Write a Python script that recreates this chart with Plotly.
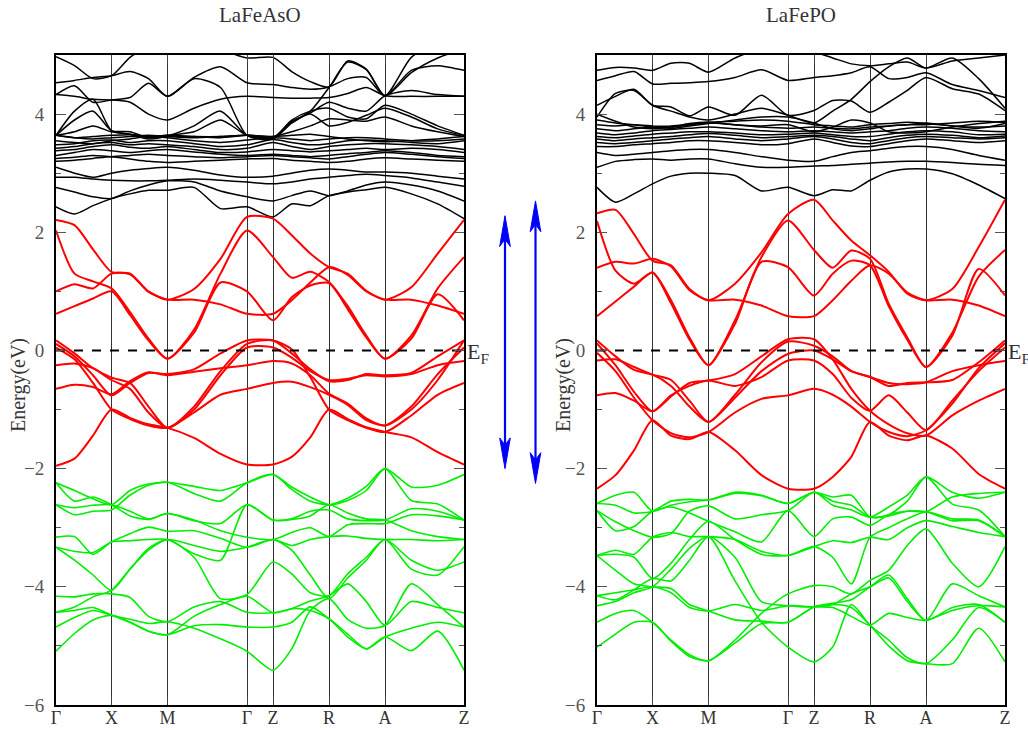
import plotly.graph_objects as go

# ---------------- data ----------------
k_sym = [0, 55.5, 111.5, 191, 217, 273, 329, 408]
k_labels = ["Γ", "X", "M", "Γ", "Z", "R", "A", "Z"]
k_samp = [0, 18.5, 37, 55.5, 74, 92.5, 111.5, 138, 164.5, 191, 217,
          235.7, 254.3, 273, 291.7, 310.3, 329, 355.3, 381.7, 408]
y_ticks = [-6, -4, -2, 0, 2, 4]
y_minor = [-5, -3, -1, 1, 3]
e_fermi = 0.0

# LaFeAsO
lafeaso_cond = [
    [2.43, 2.31, 2.45, 2.57, 2.65, 2.71, 2.71, 2.76, 2.40, 2.43, 2.26, 2.48, 2.45, 2.62, 2.68, 2.72, 2.76, 2.65, 2.48, 2.23],
    [2.76, 2.68, 2.60, 2.57, 2.70, 2.80, 2.87, 2.85, 2.70, 2.60, 2.53, 2.62, 2.70, 2.62, 2.70, 2.80, 2.85, 2.80, 2.70, 2.53],
    [2.93, 2.93, 2.90, 2.88, 2.87, 2.87, 2.88, 2.90, 2.88, 2.85, 2.82, 2.85, 2.90, 2.93, 2.96, 2.98, 2.96, 2.92, 2.85, 2.78],
    [3.10, 3.00, 2.93, 3.00, 3.05, 3.08, 3.10, 3.05, 2.97, 2.93, 2.95, 3.00, 3.05, 3.07, 3.05, 3.02, 3.02, 3.00, 2.95, 2.90],
    [3.20, 3.22, 3.25, 3.28, 3.24, 3.20, 3.18, 3.20, 3.22, 3.24, 3.25, 3.22, 3.20, 3.18, 3.20, 3.24, 3.26, 3.24, 3.22, 3.20],
    [3.25, 3.27, 3.30, 3.28, 3.30, 3.32, 3.30, 3.28, 3.26, 3.28, 3.30, 3.28, 3.26, 3.24, 3.28, 3.32, 3.35, 3.32, 3.28, 3.25],
    [3.30, 3.35, 3.40, 3.38, 3.35, 3.38, 3.40, 3.36, 3.32, 3.30, 3.32, 3.30, 3.28, 3.30, 3.33, 3.35, 3.38, 3.35, 3.30, 3.28],
    [3.38, 3.40, 3.45, 3.48, 3.44, 3.42, 3.45, 3.40, 3.35, 3.36, 3.40, 3.38, 3.36, 3.38, 3.40, 3.42, 3.40, 3.42, 3.40, 3.35],
    [3.42, 3.45, 3.50, 3.52, 3.48, 3.50, 3.48, 3.45, 3.40, 3.42, 3.52, 3.45, 3.40, 3.45, 3.48, 3.50, 3.50, 3.48, 3.45, 3.40],
    [3.48, 3.50, 3.55, 3.56, 3.52, 3.55, 3.55, 3.50, 3.45, 3.48, 3.57, 3.52, 3.48, 3.50, 3.55, 3.56, 3.55, 3.52, 3.50, 3.55],
    [3.55, 3.52, 3.50, 3.55, 3.58, 3.62, 3.60, 3.55, 3.52, 3.56, 3.60, 3.58, 3.55, 3.58, 3.60, 3.60, 3.58, 3.55, 3.55, 3.58],
    [3.64, 3.60, 3.58, 3.60, 3.62, 3.64, 3.62, 3.60, 3.62, 3.64, 3.62, 3.64, 3.66, 3.62, 3.58, 3.55, 3.53, 3.55, 3.58, 3.62],
    [3.64, 3.70, 3.80, 3.70, 3.66, 3.62, 3.64, 3.62, 3.60, 3.64, 3.62, 3.70, 3.80, 3.92, 3.90, 3.88, 3.95, 3.80, 3.70, 3.62],
    [3.64, 4.05, 4.25, 3.72, 3.66, 3.58, 3.63, 3.80, 4.05, 3.64, 3.60, 3.85, 4.00, 3.80, 3.86, 3.98, 4.10, 3.95, 3.75, 3.64],
    [3.64, 3.90, 4.05, 3.72, 3.70, 3.60, 3.63, 3.62, 3.62, 3.64, 3.60, 3.90, 4.05, 4.10, 3.95, 3.92, 4.15, 4.00, 3.80, 3.64],
    [4.33, 4.48, 4.20, 4.24, 4.28, 4.52, 4.30, 4.60, 4.45, 3.64, 3.58, 3.88, 4.02, 4.20, 4.10, 4.05, 4.31, 4.40, 4.33, 4.30],
    [4.53, 4.57, 4.62, 4.65, 4.72, 4.60, 4.30, 4.62, 4.80, 4.53, 4.50, 4.45, 4.42, 4.46, 4.60, 4.62, 4.31, 4.74, 4.82, 4.74],
    [4.33, 4.30, 4.25, 4.24, 4.20, 4.00, 3.90, 4.10, 4.25, 4.30, 4.28, 4.27, 4.27, 4.28, 4.35, 4.45, 4.31, 4.30, 4.30, 4.30],
    [3.64, 3.60, 3.62, 3.64, 3.65, 3.62, 3.64, 3.70, 3.90, 3.64, 3.58, 3.85, 4.05, 4.45, 4.88, 4.75, 4.31, 4.70, 4.95, 5.10],
    [4.97, 4.82, 4.60, 4.65, 4.96, 5.15, 5.30, 5.30, 5.10, 4.95, 4.96, 4.72, 4.55, 4.46, 4.90, 4.76, 4.31, 4.96, 5.20, 5.10],
]
lafeaso_fe_d = [
    [2.21, 2.12, 1.71, 1.33, 1.30, 1.00, 0.86, 1.04, 1.55, 2.26, 2.23, 1.95, 1.64, 1.41, 1.30, 1.01, 0.86, 1.07, 1.64, 2.21],
    [2.03, 1.30, 1.17, 1.05, 0.65, 0.20, -0.14, 0.35, 1.30, 2.03, 1.58, 1.23, 1.33, 1.16, 0.75, 0.25, -0.14, 0.25, 1.05, 1.58],
    [0.62, 0.75, 0.88, 1.00, 0.60, 0.17, -0.14, 0.30, 1.15, 1.00, 0.51, 0.90, 1.10, 1.14, 0.70, 0.22, -0.14, 0.20, 0.95, 0.51],
    [1.00, 1.12, 1.05, 1.30, 1.29, 0.99, 0.86, 0.86, 0.78, 0.62, 0.62, 0.85, 1.15, 1.41, 1.28, 1.00, 0.86, 0.86, 0.76, 0.62],
    [0.11, -0.10, -0.42, -0.76, -0.55, -0.38, -0.40, -0.32, -0.05, 0.17, 0.17, 0.02, -0.45, -1.00, -1.18, -1.31, -1.38, -1.10, -0.75, -0.55],
    [0.17, -0.05, -0.30, -0.46, -0.55, -0.95, -1.31, -0.95, -0.35, 0.11, 0.17, -0.05, -0.32, -0.52, -0.50, -0.40, -0.42, -0.38, -0.10, 0.17],
    [0.05, -0.15, -0.55, -1.00, -1.16, -1.27, -1.31, -1.05, -0.75, -0.65, -0.55, -0.53, -0.62, -0.75, -0.92, -1.18, -1.27, -1.00, -0.50, 0.17],
    [-0.25, -0.22, -0.30, -0.50, -0.65, -1.05, -1.31, -1.00, -0.42, 0.05, 0.05, -0.12, -0.35, -0.50, -0.48, -0.42, -0.44, -0.40, -0.25, -0.18],
    [-0.65, -0.58, -0.62, -0.74, -0.52, -0.37, -0.42, -0.36, -0.30, -0.25, -0.18, -0.22, -0.42, -0.73, -0.90, -1.15, -1.27, -0.95, -0.40, 0.05],
    [-1.95, -1.83, -1.44, -1.00, -1.14, -1.25, -1.31, -1.48, -1.75, -1.93, -1.93, -1.80, -1.47, -1.00, -1.16, -1.30, -1.38, -1.47, -1.72, -1.93],
]
lafeaso_p = [
    [-2.24, -2.37, -2.51, -2.61, -2.37, -2.26, -2.23, -2.30, -2.37, -2.24, -2.10, -2.31, -2.48, -2.61, -2.54, -2.37, -2.00, -2.31, -2.28, -2.10],
    [-2.24, -2.55, -2.48, -2.61, -2.80, -2.86, -2.76, -2.88, -2.93, -2.61, -2.87, -2.85, -2.72, -2.70, -2.85, -2.88, -2.87, -2.68, -2.72, -2.87],
    [-2.61, -2.78, -2.72, -2.70, -2.45, -2.28, -2.23, -2.42, -2.55, -2.24, -2.10, -2.35, -2.55, -2.61, -2.50, -2.30, -2.00, -2.54, -2.60, -2.87],
    [-2.61, -2.66, -2.62, -2.61, -2.72, -2.85, -2.76, -2.87, -3.05, -3.16, -3.20, -3.08, -3.00, -3.15, -2.95, -2.93, -2.93, -2.78, -2.80, -2.87],
    [-3.16, -3.15, -3.45, -3.24, -3.10, -2.99, -3.06, -3.05, -3.18, -3.33, -3.20, -3.30, -3.20, -3.15, -3.14, -3.18, -3.20, -3.20, -3.22, -3.20],
    [-3.33, -3.40, -3.42, -3.24, -3.22, -3.20, -3.20, -3.44, -3.55, -2.61, -2.87, -2.86, -2.80, -2.61, -2.75, -2.85, -2.87, -3.05, -3.15, -3.20],
    [-3.33, -3.55, -3.80, -4.06, -3.70, -3.35, -3.20, -3.50, -4.20, -4.13, -3.58, -3.78, -4.10, -4.15, -3.78, -3.50, -3.20, -3.70, -3.80, -3.32],
    [-4.16, -4.17, -4.12, -4.12, -4.18, -4.50, -4.59, -4.34, -4.25, -4.43, -4.44, -4.37, -4.24, -4.15, -3.95, -4.25, -4.65, -4.25, -4.35, -4.44],
    [-4.43, -4.34, -4.17, -4.06, -3.70, -3.38, -3.20, -3.30, -3.40, -3.33, -3.20, -3.38, -3.80, -4.20, -3.85, -3.55, -3.20, -3.55, -3.72, -3.58],
    [-4.43, -4.40, -4.35, -4.48, -4.60, -4.75, -4.81, -4.66, -4.64, -4.68, -4.68, -4.60, -4.34, -4.54, -4.80, -5.05, -4.85, -4.70, -4.60, -4.68],
    [-4.68, -4.52, -4.40, -4.48, -4.55, -4.62, -4.59, -4.70, -4.88, -5.09, -5.41, -5.05, -4.40, -4.20, -4.55, -4.70, -4.65, -3.95, -4.30, -4.68],
    [-5.09, -4.79, -4.56, -4.48, -4.60, -4.75, -4.81, -4.50, -4.30, -4.16, -4.44, -4.37, -4.40, -4.54, -4.85, -5.05, -4.85, -5.08, -4.75, -5.41],
]

# LaFePO
lafepo_cond = [
    [2.76, 2.51, 2.65, 2.82, 2.95, 3.00, 3.00, 2.96, 2.70, 2.76, 2.62, 2.72, 2.70, 2.88, 3.02, 3.07, 3.07, 2.99, 2.80, 2.57],
    [3.10, 3.20, 3.23, 3.24, 3.22, 3.24, 3.24, 3.16, 3.10, 3.10, 3.12, 3.13, 3.15, 3.17, 3.19, 3.20, 3.20, 3.18, 3.15, 3.13],
    [3.35, 3.30, 3.32, 3.35, 3.38, 3.40, 3.40, 3.35, 3.28, 3.22, 3.20, 3.28, 3.35, 3.38, 3.42, 3.45, 3.45, 3.40, 3.30, 3.22],
    [3.45, 3.45, 3.48, 3.50, 3.52, 3.55, 3.55, 3.52, 3.48, 3.50, 3.58, 3.52, 3.46, 3.45, 3.50, 3.55, 3.58, 3.55, 3.52, 3.55],
    [3.52, 3.50, 3.52, 3.55, 3.58, 3.60, 3.62, 3.58, 3.55, 3.58, 3.62, 3.58, 3.52, 3.50, 3.55, 3.60, 3.62, 3.60, 3.58, 3.60],
    [3.58, 3.55, 3.58, 3.60, 3.62, 3.65, 3.67, 3.64, 3.60, 3.62, 3.64, 3.62, 3.58, 3.55, 3.60, 3.64, 3.66, 3.64, 3.60, 3.63],
    [3.62, 3.60, 3.63, 3.66, 3.68, 3.70, 3.70, 3.68, 3.65, 3.66, 3.68, 3.65, 3.62, 3.62, 3.66, 3.70, 3.72, 3.70, 3.65, 3.66],
    [3.68, 3.65, 3.68, 3.72, 3.74, 3.76, 3.78, 3.75, 3.72, 3.70, 3.72, 3.70, 3.68, 3.70, 3.72, 3.76, 3.78, 3.76, 3.72, 3.70],
    [3.75, 3.72, 3.75, 3.78, 3.80, 3.82, 3.85, 3.82, 3.78, 3.76, 3.78, 3.76, 3.75, 3.78, 3.80, 3.82, 3.85, 3.80, 3.78, 3.80],
    [3.82, 3.80, 3.82, 3.80, 3.78, 3.82, 3.86, 3.88, 3.90, 3.88, 3.82, 3.80, 3.78, 3.82, 3.84, 3.86, 3.84, 3.80, 3.76, 3.84],
    [3.90, 3.85, 3.82, 3.78, 3.76, 3.80, 3.84, 3.90, 3.95, 3.95, 3.85, 3.75, 3.72, 3.75, 3.80, 3.82, 3.82, 3.85, 3.88, 3.86],
    [4.00, 3.88, 3.78, 3.75, 3.78, 3.84, 3.86, 3.82, 3.80, 3.82, 3.70, 3.78, 3.90, 3.85, 3.70, 3.68, 3.70, 3.78, 3.84, 3.88],
    [4.15, 4.30, 4.42, 4.15, 4.12, 3.97, 4.12, 3.98, 4.32, 3.98, 4.06, 4.23, 4.22, 4.03, 4.20, 4.40, 4.62, 4.43, 4.34, 4.06],
    [4.57, 4.65, 4.72, 4.51, 4.52, 4.53, 4.55, 4.62, 4.75, 4.57, 4.62, 4.65, 4.70, 4.80, 4.60, 4.62, 4.70, 4.50, 4.40, 4.28],
    [4.74, 4.79, 4.78, 4.74, 4.86, 4.86, 4.71, 4.95, 5.10, 5.10, 5.05, 4.95, 4.85, 4.82, 4.85, 4.88, 4.78, 4.90, 4.95, 5.00],
    [3.95, 4.35, 4.40, 4.15, 4.05, 3.95, 3.90, 4.00, 4.10, 3.98, 3.85, 4.05, 4.25, 4.55, 4.80, 4.95, 4.78, 4.95, 4.60, 4.10],
]
lafepo_fe_d = [
    [2.32, 2.38, 1.97, 1.52, 1.44, 1.04, 0.85, 1.13, 1.66, 2.31, 2.55, 2.20, 1.86, 1.61, 1.33, 0.96, 0.85, 1.04, 1.75, 2.55],
    [2.19, 1.35, 1.13, 1.32, 0.85, 0.22, -0.25, 0.51, 1.58, 2.20, 1.70, 1.40, 1.69, 1.55, 0.79, 0.22, -0.28, 0.30, 1.25, 1.70],
    [0.58, 0.83, 1.08, 1.32, 0.80, 0.18, -0.25, 0.45, 1.50, 1.41, 0.93, 1.30, 1.52, 1.44, 0.75, 0.18, -0.28, 0.25, 1.38, 0.93],
    [1.40, 1.50, 1.47, 1.55, 1.42, 1.02, 0.85, 0.86, 0.76, 0.58, 0.58, 0.85, 1.18, 1.44, 1.30, 0.98, 0.85, 0.86, 0.76, 0.58],
    [0.12, -0.25, -0.70, -1.03, -0.78, -0.55, -0.51, -0.40, -0.10, 0.19, 0.19, -0.15, -0.65, -1.02, -1.25, -1.40, -1.44, -1.10, -0.85, -0.65],
    [0.17, -0.10, -0.33, -0.41, -0.60, -0.95, -1.21, -0.75, -0.20, 0.15, 0.08, -0.10, -0.35, -0.45, -0.60, -0.55, -0.54, -0.50, -0.20, 0.17],
    [-0.04, -0.35, -0.80, -1.18, -1.40, -1.47, -1.38, -1.05, -0.82, -0.76, -0.65, -0.75, -0.95, -1.21, -1.38, -1.45, -1.35, -0.90, -0.30, 0.12],
    [-0.17, -0.15, -0.28, -0.41, -0.50, -0.85, -1.21, -0.80, -0.35, -0.06, 0.00, -0.15, -0.35, -0.45, -0.55, -0.57, -0.54, -0.35, -0.25, -0.18],
    [-0.76, -0.72, -0.85, -1.03, -0.76, -0.60, -0.51, -0.60, -0.45, -0.17, -0.17, -0.40, -0.80, -1.02, -0.76, -1.05, -1.35, -0.85, -0.35, 0.05],
    [-2.34, -2.11, -1.69, -1.18, -1.44, -1.50, -1.38, -1.69, -2.11, -2.34, -2.34, -2.14, -1.80, -1.21, -1.44, -1.52, -1.44, -1.66, -2.09, -2.34],
]
lafepo_p = [
    [-2.59, -2.45, -2.40, -2.72, -2.62, -2.56, -2.53, -2.40, -2.45, -2.59, -2.40, -2.48, -2.45, -2.82, -2.78, -2.55, -2.14, -2.40, -2.50, -2.40],
    [-2.71, -2.90, -3.05, -3.16, -3.10, -2.72, -2.63, -2.85, -2.78, -2.71, -2.40, -2.62, -2.70, -2.82, -2.65, -2.45, -2.14, -2.60, -2.70, -3.15],
    [-2.71, -3.05, -2.98, -2.72, -2.65, -2.75, -2.89, -3.07, -3.24, -2.71, -3.15, -2.85, -2.82, -2.96, -2.78, -2.72, -2.73, -2.88, -2.88, -3.15],
    [-3.47, -3.38, -3.45, -3.16, -3.08, -3.15, -3.15, -3.20, -3.40, -3.47, -3.32, -3.22, -3.25, -3.16, -3.20, -3.00, -2.88, -2.98, -3.08, -3.15],
    [-3.47, -3.72, -3.95, -4.00, -4.03, -4.30, -4.41, -4.56, -4.58, -4.60, -4.34, -4.28, -4.22, -4.00, -3.80, -4.20, -4.57, -3.95, -4.15, -4.34],
    [-4.15, -4.22, -4.05, -3.86, -3.90, -3.55, -3.15, -3.50, -4.25, -4.32, -4.34, -4.30, -4.35, -4.65, -5.00, -5.25, -5.30, -5.30, -4.70, -5.27],
    [-4.32, -4.25, -4.10, -4.00, -3.70, -3.35, -3.15, -3.90, -4.60, -5.02, -5.27, -5.02, -4.30, -4.65, -4.90, -5.20, -5.30, -4.90, -4.35, -4.60],
    [-4.60, -4.45, -4.40, -4.60, -4.90, -5.15, -5.25, -4.90, -4.45, -4.12, -3.98, -4.00, -4.12, -3.89, -3.72, -3.30, -3.02, -3.60, -4.00, -3.32],
    [-5.02, -4.80, -4.60, -4.60, -4.92, -5.18, -5.25, -4.95, -4.62, -4.60, -4.34, -4.30, -4.12, -4.00, -3.85, -4.25, -4.57, -4.35, -4.30, -4.60],
    [-3.47, -3.45, -3.50, -3.86, -3.60, -3.20, -2.89, -3.20, -3.45, -3.47, -3.32, -3.50, -3.95, -3.16, -3.00, -2.85, -2.73, -2.85, -2.87, -3.15],
    [-2.59, -2.62, -2.75, -2.72, -2.55, -2.52, -2.53, -2.42, -2.46, -2.59, -2.40, -2.55, -2.62, -2.82, -2.80, -2.72, -2.73, -2.48, -2.42, -2.40],
    [-4.15, -4.10, -4.05, -4.00, -4.10, -4.35, -4.41, -4.30, -4.40, -4.32, -4.34, -4.35, -4.50, -4.65, -4.45, -4.52, -4.57, -4.40, -4.32, -4.34],
]

# Fe-d bandwidth arrows (top, bottom energy in eV)
lafeaso_d_width = [2.28, -2.00]
lafepo_d_width = [2.53, -2.25]

titles = ["LaFeAsO", "LaFePO"]

# ---------------- figure ----------------
FONT = "Liberation Serif"
W, H = 1028, 730
fig = go.Figure()

panels = [
    ("x", "y", lafeaso_cond, lafeaso_fe_d, lafeaso_p),
    ("x2", "y2", lafepo_cond, lafepo_fe_d, lafepo_p),
]
for xa, ya, cond, fed, pb in panels:
    for grp, col, wd in ((pb, "#00ee00", 1.6), (cond, "black", 1.5), (fed, "#ff0000", 2.0)):
        for band in grp:
            fig.add_trace(go.Scatter(
                x=k_samp, y=band, mode="lines", xaxis=xa, yaxis=ya,
                line=dict(color=col, width=wd, shape="spline", smoothing=0.7),
                hoverinfo="skip", showlegend=False))
    fig.add_trace(go.Scatter(
        x=[k_sym[0], k_sym[-1]], y=[e_fermi, e_fermi], mode="lines",
        xaxis=xa, yaxis=ya, line=dict(color="black", width=2, dash="dash"),
        hoverinfo="skip", showlegend=False))

# arrows on an overlay axis in the gap between panels
arrow_x = [505, 535.5]
head_len, head_notch, head_half = 0.52, 0.40, 5.3
for ax_x, (top, bot) in zip(arrow_x, [lafeaso_d_width, lafepo_d_width]):
    fig.add_trace(go.Scatter(
        x=[ax_x, ax_x], y=[top - head_notch, bot + head_notch], mode="lines",
        xaxis="x3", yaxis="y3", line=dict(color="#0000ff", width=2.2),
        hoverinfo="skip", showlegend=False))
    for tip, s in ((top, -1), (bot, 1)):
        fig.add_trace(go.Scatter(
            x=[ax_x, ax_x - head_half, ax_x, ax_x + head_half, ax_x],
            y=[tip, tip + s * head_len, tip + s * head_notch, tip + s * head_len, tip],
            mode="lines", fill="toself", fillcolor="#0000ff",
            xaxis="x3", yaxis="y3", line=dict(color="#0000ff", width=1),
            hoverinfo="skip", showlegend=False))

ydom = [(H - 705) / H, (H - 55) / H]
xdom1 = [56 / W, 464 / W]
xdom2 = [597 / W, 1005 / W]

tickfont = dict(family=FONT, size=19, color="#555555")

def xaxis(dom, anchor):
    return dict(domain=dom, anchor=anchor, range=[k_sym[0], k_sym[-1]], automargin=False,
                tickmode="array", tickvals=k_sym, ticktext=k_labels,
                ticks="inside", ticklen=8, tickcolor="#444", tickwidth=1,
                showgrid=True, gridcolor="#333333", gridwidth=1,
                showline=True, linecolor="black", linewidth=2, mirror="ticks",
                zeroline=False, tickfont=dict(family=FONT, size=18, color="#333"),
                ticklabelstandoff=-5)

def yaxis(anchor):
    return dict(domain=ydom, anchor=anchor, range=[-6, 5], automargin=False,
                tickmode="array", tickvals=y_ticks,
                ticks="inside", ticklen=10, tickcolor="#555", tickwidth=1.2,
                minor=dict(tickmode="array", tickvals=y_minor, ticks="inside",
                           ticklen=5, tickcolor="#555", tickwidth=1.2, showgrid=False),
                showgrid=False, zeroline=False,
                showline=True, linecolor="black", linewidth=2, mirror="ticks",
                tickfont=tickfont, ticklabelstandoff=6)

fig.update_layout(
    width=W, height=H, margin=dict(l=0, r=0, t=0, b=0, autoexpand=False),
    paper_bgcolor="white", plot_bgcolor="white",
    xaxis=xaxis(xdom1, "y"), yaxis=yaxis("x"),
    xaxis2=xaxis(xdom2, "y2"), yaxis2=yaxis("x2"),
    xaxis3=dict(domain=[464 / W, 597 / W], range=[464, 597], visible=False, anchor="y3"),
    yaxis3=dict(domain=ydom, range=[-6, 5], visible=False, anchor="x3"),
)

ann = []
for i, (xd, t) in enumerate(zip([xdom1, xdom2], titles)):
    cx = (xd[0] + xd[1]) / 2
    ann.append(dict(text=t, x=cx, y=1 - 15 / H, xref="paper", yref="paper",
                    xanchor="center", yanchor="middle",
                    showarrow=False, font=dict(family=FONT, size=21, color="#333")))
    ann.append(dict(text="Energy(eV)", x=(18 if i == 0 else 563) / W, y=(H - 385) / H,
                    xref="paper", yref="paper", textangle=-90, showarrow=False,
                    xanchor="center", yanchor="middle",
                    font=dict(family=FONT, size=20, color="#333")))
    ann.append(dict(text="E<sub>F</sub>", x=k_sym[-1], y=e_fermi,
                    xref="x" if i == 0 else "x2", yref="y" if i == 0 else "y2",
                    xanchor="left", yanchor="middle", showarrow=False, xshift=1, yshift=-3,
                    font=dict(family=FONT, size=22, color="#333")))
fig.update_layout(annotations=ann)

fig.write_html("out.html", config={"displayModeBar": False},
               post_script="document.body.style.margin='0px';document.body.style.overflow='hidden';")
